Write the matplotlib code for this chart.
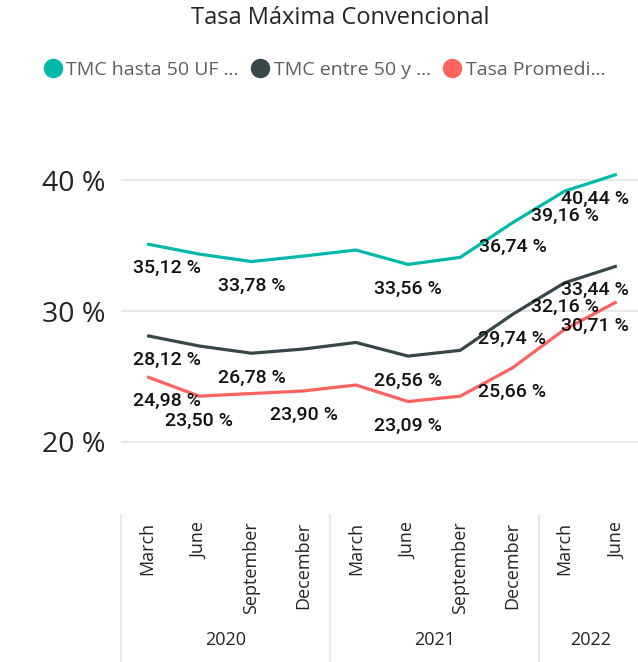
import matplotlib.pyplot as plt
import matplotlib.transforms as mtransforms
from matplotlib.lines import Line2D

# Data
months = ['March', 'June', 'September', 'December',
          'March', 'June', 'September', 'December',
          'March', 'June']
years = ['2020', '2021', '2022']
year_sizes = [4, 4, 2]

tmc_hasta_50 = [35.12, 34.35, 33.78, 34.2, 34.66, 33.56, 34.1, 36.74, 39.16, 40.44]
tmc_entre_50 = [28.12, 27.33, 26.78, 27.1, 27.6, 26.56, 27.0, 29.74, 32.16, 33.44]
tasa_promedio = [24.98, 23.50, 23.7, 23.90, 24.35, 23.09, 23.5, 25.66, 28.6, 30.71]

# which points get a data label
labeled_hasta = [0, 2, 5, 7, 8, 9]
labeled_entre = [0, 2, 5, 7, 8, 9]
labeled_prom = [0, 1, 3, 5, 7, 9]

series_names = ['TMC hasta 50 UF ...', 'TMC entre 50 y ...', 'Tasa Promedi...']
colors = ['#01B8AA', '#374649', '#FD625E']

plt.rcParams['font.family'] = ['Open Sans', 'DejaVu Sans']

fig = plt.figure(figsize=(6.38, 6.62), dpi=100)
ax = fig.add_axes([0.1897, 0.273, 0.818, 0.5736])

x = list(range(len(months)))
all_series = [tmc_hasta_50, tmc_entre_50, tasa_promedio]
all_labeled = [labeled_hasta, labeled_entre, labeled_prom]

for vals, col in zip(all_series, colors):
    ax.plot(x, vals, color=col, lw=2.3, solid_capstyle='butt', zorder=3)

# data labels, below each point
for vals, idxs in zip(all_series, all_labeled):
    for i in idxs:
        txt = f'{vals[i]:.2f} %'.replace('.', ',')
        if i == 0:
            ha, dx = 'left', -10
        elif i == len(x) - 1:
            ha, dx = 'right', 9
        else:
            ha, dx = 'center', 0
        ax.annotate(txt, (i, vals[i]), xytext=(dx, -17.5), textcoords='offset points',
                    ha=ha, va='center', fontsize=14, color='#111111',
                    family=['Roboto', 'DejaVu Sans'], fontweight='medium', zorder=4)

ax.set_xlim(-0.5, 9.5)
ax.set_ylim(17, 46)
ax.set_yticks([20, 30, 40])
ax.set_yticklabels(['20 %', '30 %', '40 %'])
ax.yaxis.grid(True, color='#E6E6E6', lw=1.3)
ax.set_axisbelow(True)
ax.tick_params(axis='y', length=0, pad=11, labelsize=20.5, labelcolor='#252423')

ax.set_xticks(x)
ax.set_xticklabels(months, rotation=90, va='top', ha='center')
ax.tick_params(axis='x', length=0, pad=29, labelsize=13, labelcolor='#252423')

for s in ax.spines.values():
    s.set_visible(False)

# year labels and separators under the month labels
trans = mtransforms.blended_transform_factory(ax.transData, fig.transFigure)
start = 0
for yr, n in zip(years, year_sizes):
    ax.plot([start - 0.5, start - 0.5], [0.0, 0.222], transform=trans,
            color='#E6E6E6', lw=1.3, clip_on=False)
    ax.text(start + (n - 1) / 2, 1 - 640 / 662, yr, transform=trans,
            ha='center', va='center', fontsize=13, color='#252423')
    start += n

# legend
handles = [Line2D([], [], marker='o', ls='none', color=c, markersize=13) for c in colors]
fig.legend(handles, series_names, loc='center', bbox_to_anchor=(0.508, 1 - 70 / 662),
           ncol=3, frameon=False, fontsize=14, labelcolor='#605E5C',
           handletextpad=0.2, columnspacing=0.6, handlelength=1.0)

fig.text(0.533, 1 - 18 / 662, 'Tasa Máxima Convencional', ha='center', va='center',
         fontsize=17, color='#252423')

fig.savefig('out.png', dpi=100)
